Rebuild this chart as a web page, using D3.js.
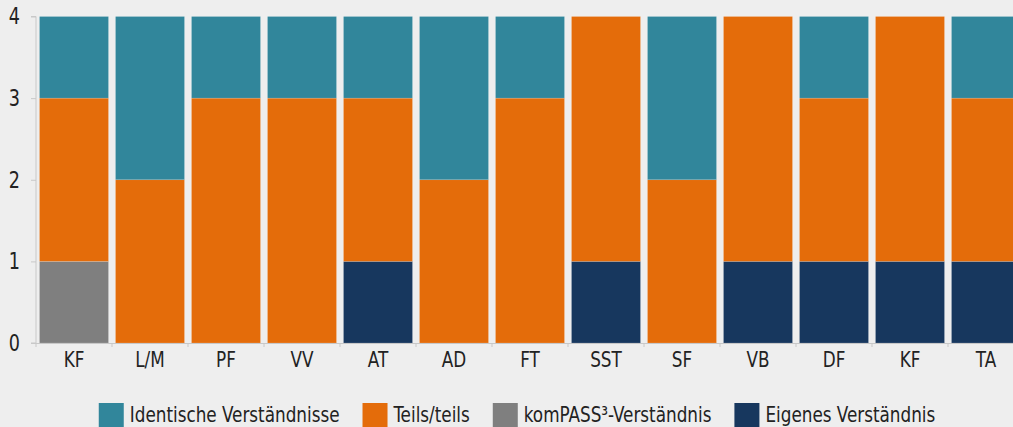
<!DOCTYPE html>
<html>
<head>
<meta charset="utf-8">
<script src="https://cdn.jsdelivr.net/npm/d3@7"></script>
<style>
  body { margin: 0; background: #eeeeee; }
  svg { display: block; }
  text { font-stretch: condensed; }
</style>
</head>
<body>
<div id="chart"></div>
<script>
//Chart data
var categories = ["KF", "L/M", "PF", "VV", "AT", "AD", "FT", "SST", "SF", "VB", "DF", "KF", "TA"];
var eigenes    = [0, 0, 0, 0, 1, 0, 0, 1, 0, 1, 1, 1, 1];
var kompass    = [1, 0, 0, 0, 0, 0, 0, 0, 0, 0, 0, 0, 0];
var teils      = [2, 2, 3, 3, 2, 2, 3, 3, 2, 3, 2, 3, 2];
var identisch  = [1, 2, 1, 1, 1, 2, 1, 0, 2, 0, 1, 0, 1];
var yTicks = [0, 1, 2, 3, 4];

var seriesNames = ["Identische Verständnisse", "Teils/teils", "komPASS³-Verständnis", "Eigenes Verständnis"];
var seriesKeys = ["identisch", "teils", "kompass", "eigenes"];
var colors = {identisch: "#31869b", teils: "#e46c0a", kompass: "#7f7f7f", eigenes: "#17375e"};

var width = 1013, height = 427;
var fontFamily = "'DejaVu Sans Condensed', 'DejaVu Sans', sans-serif";
var squeeze = 0.85; //the original font is narrower than anything installed

var svg = d3.select("#chart").append("svg").attr("width", width).attr("height", height);
svg.append("rect").attr("width", width).attr("height", height).attr("fill", "#eeeeee");

//Build the rows for the stack
var rows = categories.map(function(c, i) {
    return {i: i, cat: c, eigenes: eigenes[i], kompass: kompass[i], teils: teils[i], identisch: identisch[i]};
});

//Stack from bottom: eigenes, kompass, teils, identisch
var stack = d3.stack().keys(["eigenes", "kompass", "teils", "identisch"]);
var layers = stack(rows);

var step = 76;
var x = d3.scaleBand()
    .domain(d3.range(categories.length))
    .range([36, 36 + categories.length * step])
    .paddingInner(7 / step)
    .paddingOuter(3.5 / step);

var y = d3.scaleLinear().domain([0, 4]).range([343, 16.5]);

//Bars
svg.append("g").selectAll("g")
    .data(layers)
    .join("g")
    .attr("fill", function(d) { return colors[d.key]; })
    .selectAll("rect")
    .data(function(d) { return d; })
    .join("rect")
    .filter(function(d) { return d[1] - d[0] > 0; })
    .attr("x", function(d) { return x(d.data.i); })
    .attr("y", function(d) { return y(d[1]); })
    .attr("width", x.bandwidth())
    .attr("height", function(d) { return y(d[0]) - y(d[1]); })
    .attr("stroke", "#ffffff")
    .attr("stroke-opacity", 0.25)
    .attr("stroke-width", 0.6);

//Y axis
var yAxis = svg.append("g").attr("transform", "translate(36,0)")
    .call(d3.axisLeft(y).tickValues(yTicks).tickSize(5).tickPadding(11).tickFormat(d3.format("d")));
yAxis.select(".domain").attr("stroke", "#c8c8c8").attr("d", "M-5," + y(4) + "H0V" + y(0) + "H-5");
yAxis.selectAll(".tick line").attr("stroke", "#c8c8c8");
yAxis.selectAll(".tick text")
    .attr("x", null)
    .attr("transform", "translate(-16,0) scale(" + squeeze + ",1)")
    .attr("font-family", fontFamily).attr("font-size", 23).attr("fill", "#222222");

//X axis line and ticks at band boundaries
var xg = svg.append("g");
xg.append("line").attr("x1", 36).attr("x2", width).attr("y1", y(0) + 0.5).attr("y2", y(0) + 0.5)
    .attr("stroke", "#c8c8c8");
var bounds = d3.range(categories.length + 1).map(function(i) { return 36 + i * step; });
xg.selectAll("line.tk").data(bounds).join("line").attr("class", "tk")
    .attr("x1", function(d) { return d; }).attr("x2", function(d) { return d; })
    .attr("y1", y(0)).attr("y2", y(0) + 4)
    .attr("stroke", "#c8c8c8");

xg.selectAll("text").data(rows).join("text")
    .attr("transform", function(d) {
        return "translate(" + (x(d.i) + x.bandwidth() / 2) + ",367) scale(" + squeeze + ",1)";
    })
    .attr("text-anchor", "middle")
    .attr("font-family", fontFamily).attr("font-size", 22).attr("fill", "#222222")
    .text(function(d) { return d.cat; });

//Legend
var legend = svg.append("g");
var items = legend.selectAll("g").data(seriesKeys).join("g");
items.append("rect").attr("width", 25).attr("height", 25).attr("y", 403)
    .attr("fill", function(d) { return colors[d]; });
items.append("text")
    .attr("transform", "translate(31,422) scale(" + squeeze + ",1)")
    .attr("font-family", fontFamily).attr("font-size", 22).attr("fill", "#222222")
    .text(function(d, i) { return seriesNames[i]; });

var widths = [];
items.each(function() { widths.push(this.querySelector("text").getComputedTextLength() * squeeze); });
var gap = 23;
var total = d3.sum(widths) + widths.length * 31 + gap * (widths.length - 1);
var pos = 517 - total / 2;
items.attr("transform", function(d, i) {
    var t = "translate(" + pos + ",0)";
    pos += 31 + widths[i] + gap;
    return t;
});
</script>
</body>
</html>
